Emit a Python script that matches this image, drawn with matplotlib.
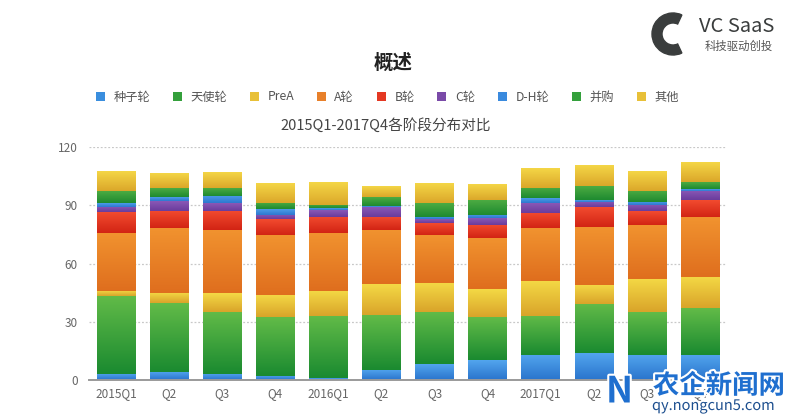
import numpy as np
import matplotlib
matplotlib.use("Agg")
import matplotlib.pyplot as plt
from matplotlib import patches
from matplotlib.colors import to_rgb
import matplotlib.patheffects as pe

plt.rcParams['font.family'] = ['Noto Sans CJK SC', 'DejaVu Sans']

categories = ['2015Q1', 'Q2', 'Q3', 'Q4', '2016Q1', 'Q2', 'Q3', 'Q4', '2017Q1', 'Q2', 'Q3', 'Q4']
series_names = ['种子轮', '天使轮', 'PreA', 'A轮', 'B轮', 'C轮', 'D-H轮', '并购', '其他']
seed = [3.1, 4.3, 3.1, 2.1, 0.9, 5.2, 8.2, 10.3, 12.9, 13.7, 12.9, 12.9]
angel = [40.2, 35.2, 32.1, 30.2, 32.1, 28.3, 27.0, 22.0, 20.1, 25.5, 22.0, 24.1]
prea = [2.6, 5.2, 9.5, 11.5, 12.9, 15.8, 15.0, 14.4, 18.2, 9.8, 17.2, 16.3]
round_a = [30.0, 33.5, 32.6, 30.9, 30.0, 28.0, 24.5, 26.3, 27.0, 30.0, 27.8, 30.9]
round_b = [10.4, 9.1, 10.0, 8.1, 8.3, 6.9, 6.1, 6.9, 8.0, 10.0, 6.9, 8.6]
round_c = [3.0, 5.1, 3.8, 2.3, 3.4, 5.1, 2.0, 3.4, 4.9, 2.9, 3.4, 4.8]
round_dh = [1.8, 1.8, 3.7, 2.9, 0.8, 0.5, 1.4, 1.8, 2.5, 1.0, 1.7, 1.0]
ma = [6.0, 4.6, 4.0, 3.1, 1.8, 4.4, 6.9, 7.7, 5.2, 7.2, 5.7, 3.6]
other = [9.9, 7.4, 8.2, 9.9, 11.5, 5.4, 9.9, 8.2, 10.3, 10.8, 10.3, 9.8]
yticks = [0, 30, 60, 90, 120]

series = [seed, angel, prea, round_a, round_b, round_c, round_dh, ma, other]
# (light top, dark bottom)
grad_colors = [
    ('#52a5ee', '#2a74cc'),
    ('#62bb48', '#1a8a30'),
    ('#f4d945', '#d9a42a'),
    ('#f1932f', '#df6e1e'),
    ('#f24b2f', '#d22414'),
    ('#8a58b6', '#6a3c9c'),
    ('#4c9ce8', '#2d78cf'),
    ('#4cab42', '#1e8a30'),
    ('#f4d646', '#dba72a'),
]
mid_colors = ['#3a8ede', '#34a03c', '#e8c038', '#e8802a', '#e43822', '#7a4aa8', '#3a8ade', '#34a03c', '#e8c038']

fig = plt.figure(figsize=(8.0, 4.18), dpi=100)
ax = fig.add_axes([0.111, 0.0909, 0.798, 0.5574])

x = np.arange(len(categories))
bottom = np.zeros(len(categories))
containers = []
for vals, name, mc, (lt, dk) in zip(series, series_names, mid_colors, grad_colors):
    bc = ax.bar(x, vals, width=0.73, bottom=bottom, color=mc, label=name, zorder=2, linewidth=0)
    containers.append(bc)
    grad = np.linspace(0, 1, 64)[:, None, None]
    c0 = np.array(to_rgb(dk))
    c1 = np.array(to_rgb(lt))
    img = c0 + (c1 - c0) * grad
    for p in bc.patches:
        x0, y0 = p.get_x(), p.get_y()
        w, h = p.get_width(), p.get_height()
        if h <= 0:
            continue
        ax.imshow(img, extent=(x0, x0 + w, y0, y0 + h), origin='lower',
                  aspect='auto', zorder=3, interpolation='bilinear')
    bottom += np.array(vals)

ax.set_xlim(-0.51, len(categories) - 0.49)
ax.set_ylim(0, 120)
ax.set_yticks(yticks)
ax.set_xticks(x)
ax.set_xticklabels(categories)
ax.tick_params(axis='both', length=0, labelsize=8.5, colors='#666666')
ax.tick_params(axis='y', pad=8)
ax.tick_params(axis='x', pad=5)
for s in ['left', 'right', 'top']:
    ax.spines[s].set_visible(False)
ax.spines['bottom'].set_color('#9a9a9a')
ax.spines['bottom'].set_linewidth(1.4)
ax.spines['bottom'].set_zorder(5)
ax.yaxis.grid(True, linestyle=(0, (1.5, 1.5)), color='#c8c8c8', linewidth=0.9, zorder=0)
ax.set_axisbelow(True)

handles = [c.patches[0] for c in containers]
leg = fig.legend(handles, series_names, loc='center', bbox_to_anchor=(0.484, 1 - 97 / 418), ncol=9,
                 frameon=False, fontsize=8.8, handlelength=0.75, handleheight=0.75,
                 handletextpad=0.7, columnspacing=1.85, labelcolor='#555555')

fig.text(0.482, 1 - 125 / 418, '2015Q1-2017Q4各阶段分布对比', ha='center', va='center',
         fontsize=10.5, color='#444444')
fig.text(0.492, 1 - 63 / 418, '概述', ha='center', va='center', fontsize=14,
         fontweight='bold', color='#222222')

# logo top-right
logo = patches.Wedge((673, 418 - 34), 21, 65, 295, width=10, transform=None,
                     color='#3a3d3d')
fig.patches.append(logo)
fig.text(699 / 800, 1 - 26 / 418, 'VC SaaS', ha='left', va='center', fontsize=14.5,
         color='#3a3d3d')
fig.text(705 / 800, 1 - 46 / 418, '科技驱动创投', ha='left', va='center', fontsize=8.2,
         color='#555555')

# watermark bottom-right
wm = fig.text(653 / 800, 1 - 386 / 418, '农企新闻网', ha='left', va='center', fontsize=19,
              fontweight='bold', color='#1f6fcf')
wm.set_path_effects([pe.withStroke(linewidth=3, foreground='white')])
wm2 = fig.text(652 / 800, 1 - 406 / 418, 'qy.nongcun5.com', ha='left', va='center', fontsize=10.5,
               color='#1d4f8f')
wm2.set_path_effects([pe.withStroke(linewidth=2, foreground='white')])
wm3 = fig.text(606 / 800, 1 - 392 / 418, 'N', ha='left', va='center', fontsize=26,
               fontweight='bold', color='#1f6fcf')
wm3.set_path_effects([pe.withStroke(linewidth=3, foreground='white')])

fig.savefig('out.png', dpi=100, facecolor='white')
